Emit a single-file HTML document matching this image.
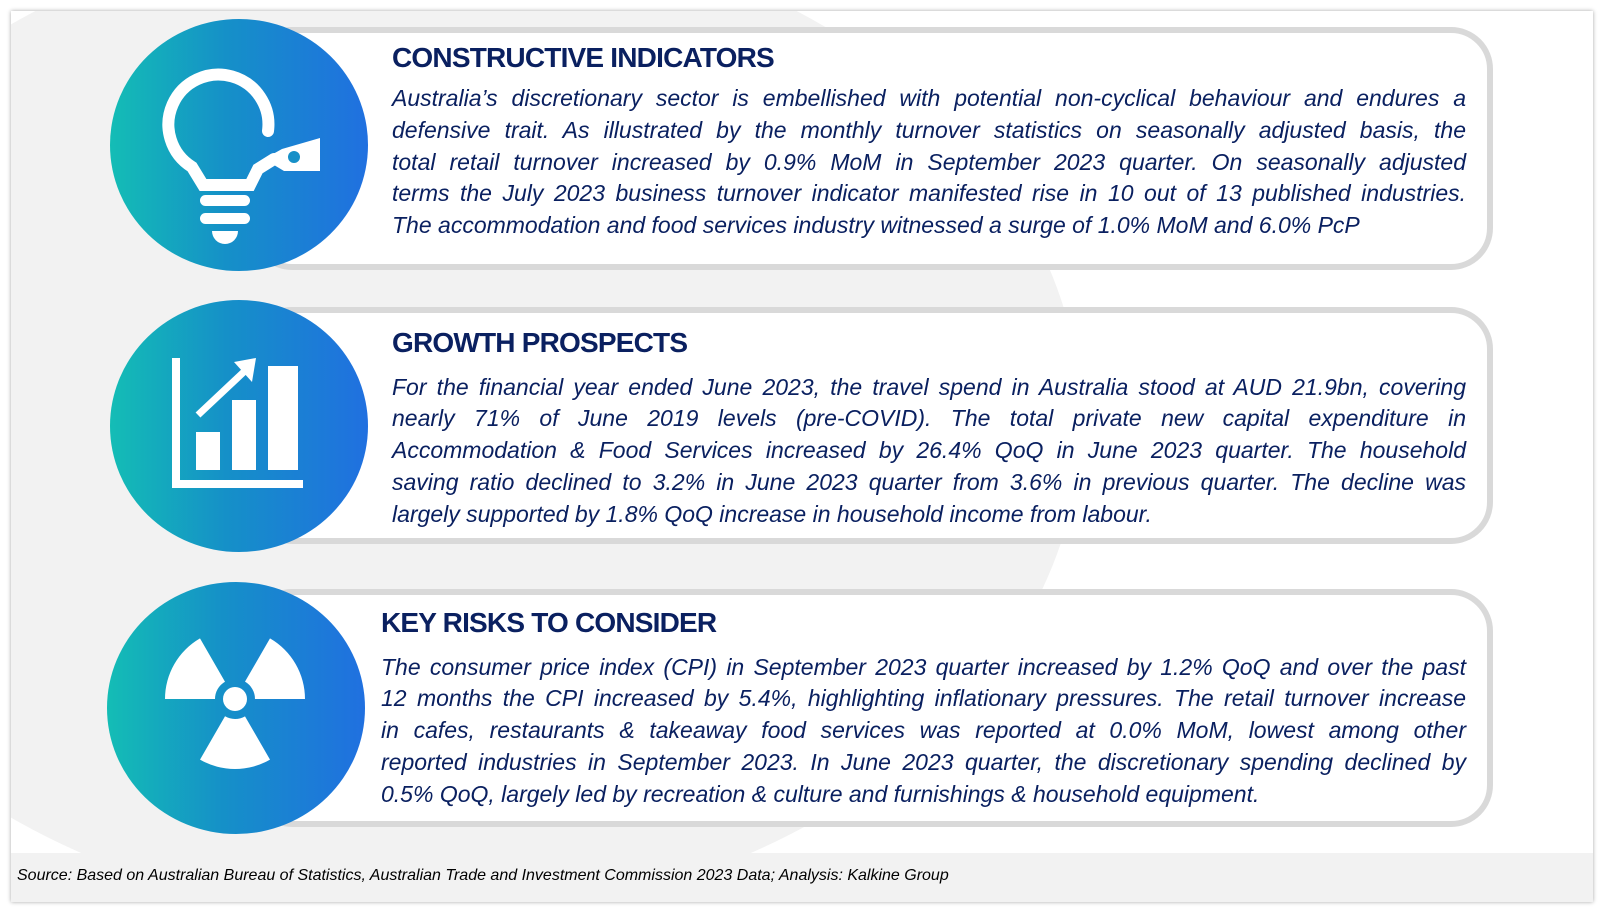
<!DOCTYPE html>
<html><head><meta charset="utf-8">
<style>
*{margin:0;padding:0;box-sizing:border-box}
body{width:1604px;height:912px;background:#fff;position:relative;overflow:hidden;font-family:"Liberation Sans",sans-serif}
#frame{position:absolute;left:11px;top:11px;width:1582px;height:891px;background:#fff;box-shadow:0 0 4px rgba(0,0,0,.35);overflow:hidden}
#bgshape{position:absolute;left:-260px;top:-90px;width:1330px;height:1000px;border-radius:50%;background:#f2f2f2}
#footer{position:absolute;left:0;top:842px;width:1582px;height:49px;background:#f2f2f2}
.card{position:absolute;left:239px;width:1243px;background:#fff;border:6px solid #d9d9d9;border-radius:42px}
.circle{position:absolute;width:258px;height:252px;border-radius:50%;background:linear-gradient(90deg,#14bdb5,#1590c8 45%,#2070e0)}
.title{position:absolute;font-weight:bold;font-size:28px;color:#0a2060;white-space:nowrap;letter-spacing:-0.8px}
.line{position:absolute;font-style:italic;font-size:23px;color:#0a2060;white-space:nowrap;text-align:justify;text-align-last:justify;height:30px;line-height:30px}
.line.last{text-align-last:left}
#src{position:absolute;left:6px;top:856px;font-style:italic;font-size:16px;color:#000;white-space:nowrap}
</style></head><body>
<div id="frame">
<div id="bgshape"></div>
<div id="footer"></div>

<div class="card" style="top:16px;height:243px"></div>
<div class="card" style="top:296px;height:237px"></div>
<div class="card" style="top:578px;height:238px"></div>

<div class="circle" style="left:99px;top:8px">
<svg width="258" height="252" viewBox="0 0 258 252">
<path d="M158 112 A50 50 0 1 0 82 148 L93 166 L140 166 L148 150 L164 140" fill="none" stroke="#fff" stroke-width="12" stroke-linecap="round"/>
<path d="M154 140 L172 130 L210 119 L210 152 L174 152 Z" fill="#fff"/>
<circle cx="184" cy="138" r="6" fill="#1790c8"/>
<rect x="90" y="176" width="50" height="11" rx="5.5" fill="#fff"/>
<rect x="90" y="194" width="50" height="11" rx="5.5" fill="#fff"/>
<path d="M102 212 L128 212 A13 13 0 0 1 102 212 Z" fill="#fff"/>
</svg></div>
<div class="circle" style="left:99px;top:289px">
<svg width="258" height="252" viewBox="0 0 258 252">
<path d="M66 58 L66 184 L193 184" fill="none" stroke="#fff" stroke-width="8"/>
<rect x="86" y="132" width="24" height="38" fill="#fff"/>
<rect x="122" y="100" width="24" height="70" fill="#fff"/>
<rect x="158" y="66" width="30" height="104" fill="#fff"/>
<path d="M88 115 L138 68" stroke="#fff" stroke-width="7"/>
<path d="M124 62 L146 58 L142 82 Z" fill="#fff"/>
</svg></div>
<div class="circle" style="left:96px;top:571px">
<svg width="258" height="252" viewBox="0 0 258 252">
<g transform="translate(128,117)" fill="#fff">
<path d="M-20 0 L-70 0 A70 70 0 0 1 -35 -60.6 L-10 -17.3 A20 20 0 0 0 -20 0 Z"/>
<path d="M-20 0 L-70 0 A70 70 0 0 1 -35 -60.6 L-10 -17.3 A20 20 0 0 0 -20 0 Z" transform="rotate(120)"/>
<path d="M-20 0 L-70 0 A70 70 0 0 1 -35 -60.6 L-10 -17.3 A20 20 0 0 0 -20 0 Z" transform="rotate(240)"/>
<circle r="12"/>
</g></svg></div>

<div class="title" style="left:381px;top:31px">CONSTRUCTIVE INDICATORS</div>
<div class="line" style="left:381px;top:72px;width:1074px">Australia’s discretionary sector is embellished with potential non-cyclical behaviour and endures a</div>
<div class="line" style="left:381px;top:104px;width:1074px">defensive trait. As illustrated by the monthly turnover statistics on seasonally adjusted basis, the</div>
<div class="line" style="left:381px;top:136px;width:1074px">total retail turnover increased by 0.9% MoM in September 2023 quarter. On seasonally adjusted</div>
<div class="line" style="left:381px;top:167px;width:1074px">terms the July 2023 business turnover indicator manifested rise in 10 out of 13 published industries.</div>
<div class="line last" style="left:381px;top:199px;width:1074px">The accommodation and food services industry witnessed a surge of 1.0% MoM and 6.0% PcP</div>

<div class="title" style="left:381px;top:316px">GROWTH PROSPECTS</div>
<div class="line" style="left:381px;top:361px;width:1074px">For the financial year ended June 2023, the travel spend in Australia stood at AUD 21.9bn, covering</div>
<div class="line" style="left:381px;top:392px;width:1074px">nearly 71% of June 2019 levels (pre-COVID). The total private new capital expenditure in</div>
<div class="line" style="left:381px;top:424px;width:1074px">Accommodation &amp; Food Services increased by 26.4% QoQ in June 2023 quarter. The household</div>
<div class="line" style="left:381px;top:456px;width:1074px">saving ratio declined to 3.2% in June 2023 quarter from 3.6% in previous quarter. The decline was</div>
<div class="line last" style="left:381px;top:488px;width:1074px">largely supported by 1.8% QoQ increase in household income from labour.</div>

<div class="title" style="left:370px;top:596px">KEY RISKS TO CONSIDER</div>
<div class="line" style="left:370px;top:641px;width:1085px">The consumer price index (CPI) in September 2023 quarter increased by 1.2% QoQ and over the past</div>
<div class="line" style="left:370px;top:672px;width:1085px">12 months the CPI increased by 5.4%, highlighting inflationary pressures. The retail turnover increase</div>
<div class="line" style="left:370px;top:704px;width:1085px">in cafes, restaurants &amp; takeaway food services was reported at 0.0% MoM, lowest among other</div>
<div class="line" style="left:370px;top:736px;width:1085px">reported industries in September 2023. In June 2023 quarter, the discretionary spending declined by</div>
<div class="line last" style="left:370px;top:768px;width:1085px">0.5% QoQ, largely led by recreation &amp; culture and furnishings &amp; household equipment.</div>

<div id="src">Source: Based on Australian Bureau of Statistics, Australian Trade and Investment Commission 2023 Data; Analysis: Kalkine Group</div>
</div>
<script>
document.querySelectorAll('.line').forEach(function(el){
  var s=document.createElement('span');
  s.textContent=el.textContent;
  s.style.cssText='position:absolute;visibility:hidden;white-space:nowrap;font-style:italic;font-size:23px;font-family:"Liberation Sans",sans-serif';
  document.body.appendChild(s);
  var w=s.getBoundingClientRect().width;
  var max=parseFloat(el.style.width)-6;
  if(w>max){el.style.fontSize=(23*max/w).toFixed(2)+'px';}
  s.remove();
});
</script>
</body></html>
